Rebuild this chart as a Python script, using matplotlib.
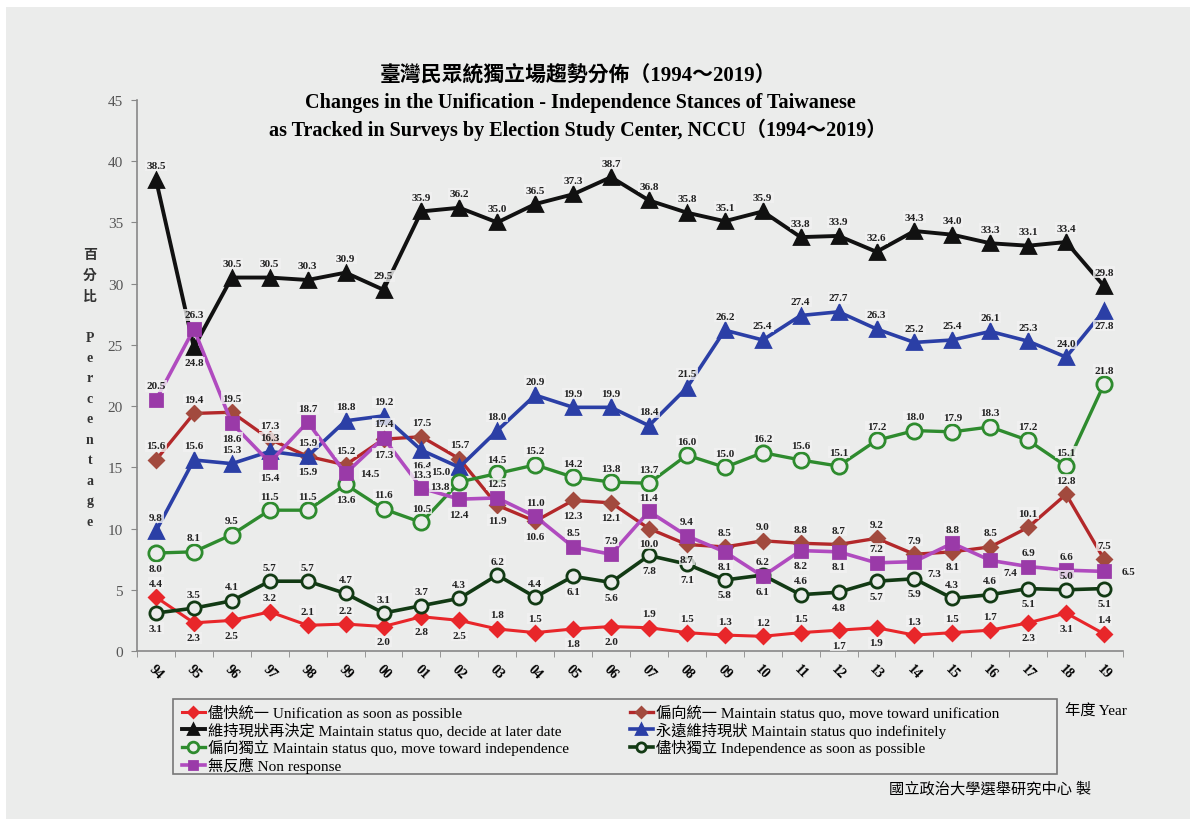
import matplotlib.pyplot as plt
from matplotlib.patches import Rectangle

# ---- data (NCCU Election Study Center, 1994-2019) ----
years = ['94', '95', '96', '97', '98', '99', '00', '01', '02', '03', '04', '05', '06',
         '07', '08', '09', '10', '11', '12', '13', '14', '15', '16', '17', '18', '19']

unif_asap = [4.4, 2.3, 2.5, 3.2, 2.1, 2.2, 2.0, 2.8, 2.5, 1.8, 1.5, 1.8, 2.0,
             1.9, 1.5, 1.3, 1.2, 1.5, 1.7, 1.9, 1.3, 1.5, 1.7, 2.3, 3.1, 1.4]
toward_unif = [15.6, 19.4, 19.5, 17.3, 15.9, 15.2, 17.3, 17.5, 15.7, 11.9, 10.6, 12.3, 12.1,
               10.0, 8.7, 8.5, 9.0, 8.8, 8.7, 9.2, 7.9, 8.1, 8.5, 10.1, 12.8, 7.5]
decide_later = [38.5, 24.8, 30.5, 30.5, 30.3, 30.9, 29.5, 35.9, 36.2, 35.0, 36.5, 37.3, 38.7,
                36.8, 35.8, 35.1, 35.9, 33.8, 33.9, 32.6, 34.3, 34.0, 33.3, 33.1, 33.4, 29.8]
indefinitely = [9.8, 15.6, 15.3, 16.3, 15.9, 18.8, 19.2, 16.4, 15.0, 18.0, 20.9, 19.9, 19.9,
                18.4, 21.5, 26.2, 25.4, 27.4, 27.7, 26.3, 25.2, 25.4, 26.1, 25.3, 24.0, 27.8]
toward_indep = [8.0, 8.1, 9.5, 11.5, 11.5, 13.6, 11.6, 10.5, 13.8, 14.5, 15.2, 14.2, 13.8,
                13.7, 16.0, 15.0, 16.2, 15.6, 15.1, 17.2, 18.0, 17.9, 18.3, 17.2, 15.1, 21.8]
indep_asap = [3.1, 3.5, 4.1, 5.7, 5.7, 4.7, 3.1, 3.7, 4.3, 6.2, 4.4, 6.1, 5.6,
              7.8, 7.1, 5.8, 6.2, 4.6, 4.8, 5.7, 5.9, 4.3, 4.6, 5.1, 5.0, 5.1]
non_response = [20.5, 26.3, 18.6, 15.4, 18.7, 14.5, 17.4, 13.3, 12.4, 12.5, 11.0, 8.5, 7.9,
                11.4, 9.4, 8.1, 6.1, 8.2, 8.1, 7.2, 7.3, 8.8, 7.4, 6.9, 6.6, 6.5]

# where each value label sits: a=above, b=below, l=left, r=right, R=below right
pos_unif_asap = 'abbaaabbbaabbaaaaabbaaabba'
pos_toward_unif = 'aaaababaabbbbbbaaaaaabaaaa'
pos_decide_later = 'ab' + 'a' * 24
pos_indefinitely = 'aaaaaaabl' + 'a' * 16 + 'b'
pos_toward_indep = 'baaaabaal' + 'a' * 17
pos_indep_asap = 'baaaaaaaaaabbbbbaabbbaabab'
pos_non_response = 'aabbaraabaaaaaabbbbaRaRaar'

FIG_W, FIG_H = 1196, 828
SERIF = ['Liberation Serif', 'Noto Sans CJK TC']
BG = '#ebeceb'

fig = plt.figure(figsize=(FIG_W / 100, FIG_H / 100), dpi=100)
fig.patch.set_facecolor('white')
fig.patches.append(Rectangle((6 / FIG_W, 8 / FIG_H), 1184 / FIG_W, 812 / FIG_H,
                             transform=fig.transFigure, facecolor=BG,
                             edgecolor='none', zorder=-10))

ax = fig.add_axes([137 / FIG_W, 1 - 652 / FIG_H, 986 / FIG_W, 551 / FIG_H])
ax.set_facecolor('none')

x = list(range(len(years)))

series = [
    # label, values, label positions, line colour, marker, marker face, marker edge, size, lw
    ('儘快統一 Unification as soon as possible', unif_asap, pos_unif_asap,
     '#e8262a', 'D', '#e8262a', '#e8262a', 7, 2.2),
    ('偏向統一 Maintain status quo, move toward unification', toward_unif, pos_toward_unif,
     '#b3282a', 'D', '#a24a3e', '#a24a3e', 7, 2.4),
    ('維持現狀再決定 Maintain status quo, decide at later date', decide_later, pos_decide_later,
     '#111111', '^', '#111111', '#111111', 10, 2.8),
    ('永遠維持現狀 Maintain status quo indefinitely', indefinitely, pos_indefinitely,
     '#2b3fa6', '^', '#2b3fa6', '#2b3fa6', 10, 2.6),
    ('偏向獨立 Maintain status quo, move toward independence', toward_indep, pos_toward_indep,
     '#2e8b2e', 'o', BG, '#2e8b2e', 11, 2.4),
    ('儘快獨立 Independence as soon as possible', indep_asap, pos_indep_asap,
     '#123a14', 'o', BG, '#123a14', 9.5, 2.6),
    ('無反應 Non response', non_response, pos_non_response,
     '#b04bbf', 's', '#9a3aa8', '#9a3aa8', 9, 2.6),
]

offsets = {'a': (0, 14), 'b': (0, -15), 'l': (-19, -4), 'r': (24, 0), 'R': (20, -12)}

handles = {}
for i, (label, vals, pos, col, mk, mfc, mec, ms, lw) in enumerate(series):
    ln, = ax.plot(x, vals, color=col, lw=lw, marker=mk, markersize=ms,
                  markerfacecolor=mfc, markeredgecolor=mec, markeredgewidth=2,
                  zorder=3 + i, label=label)
    handles[label] = ln
    for xi, v, p in zip(x, vals, pos):
        dx, dy = offsets[p]
        ax.annotate(f'{v:.1f}', (xi, v), textcoords='offset pixels', xytext=(dx, dy),
                    ha='center', va='center', fontsize=8, family='Liberation Serif',
                    fontweight='bold', color='#222222', zorder=20,
                    bbox=dict(boxstyle='square,pad=0.12', facecolor='#f2f2f2',
                              edgecolor='none', alpha=0.8))

ax.set_xlim(-0.5, len(years) - 0.5)
ax.set_ylim(0, 45)
ax.set_yticks(range(0, 46, 5))
ax.set_xticks(x)
ax.set_xticklabels(years, rotation=-45, ha='center', va='top', fontsize=10,
                   fontweight='bold', family='Liberation Serif')
ax.set_xticks([i - 0.5 for i in range(len(years) + 1)], minor=True)
ax.tick_params(axis='x', which='major', length=0, pad=8)
ax.tick_params(axis='x', which='minor', length=4, direction='out', color='#888888')
ax.tick_params(axis='y', length=4, direction='out', color='#888888', pad=6,
               labelsize=11, labelcolor='#555555')
for t in ax.get_yticklabels():
    t.set_family('Liberation Serif')
for s in ['top', 'right']:
    ax.spines[s].set_visible(False)
for s in ['left', 'bottom']:
    ax.spines[s].set_color('#888888')
    ax.spines[s].set_linewidth(1.2)

# vertical axis title, one character per line
ylab = ['百', '分', '比', '', 'P', 'e', 'r', 'c', 'e', 'n', 't', 'a', 'g', 'e']
for k, ch in enumerate(ylab):
    fig.text(90 / FIG_W, 1 - (256 + 20.5 * k) / FIG_H, ch, ha='center', va='center',
             fontsize=10, family=SERIF, fontweight='bold', color='#333333')

# titles
fig.text(578 / FIG_W, 1 - 76 / FIG_H, '臺灣民眾統獨立場趨勢分佈（1994～2019）',
         ha='center', va='center', fontsize=15, family=SERIF, fontweight='bold')
fig.text(580 / FIG_W, 1 - 103 / FIG_H,
         'Changes in the Unification - Independence Stances of Taiwanese',
         ha='center', va='center', fontsize=14.5, family=SERIF, fontweight='bold')
fig.text(578 / FIG_W, 1 - 130 / FIG_H,
         'as Tracked in Surveys by Election Study Center, NCCU（1994～2019）',
         ha='center', va='center', fontsize=14.5, family=SERIF, fontweight='bold')

# legend: row-wise order in the original -> column-wise for matplotlib
order = [0, 2, 4, 6, 1, 3, 5]
leg_h = [handles[series[i][0]] for i in order]
leg_l = [series[i][0] for i in order]
fig.patches.append(Rectangle((173 / FIG_W, 1 - 775 / FIG_H), 884 / FIG_W, 75 / FIG_H,
                             transform=fig.transFigure, facecolor='none',
                             edgecolor='#777777', linewidth=1.2, zorder=5))
leg = fig.legend(leg_h, leg_l, loc='upper left', bbox_to_anchor=(172 / FIG_W, 1 - 695 / FIG_H),
                 ncol=2, frameon=False, prop={'family': SERIF, 'size': 11},
                 handlelength=1.5, handletextpad=0.2, labelspacing=0.11,
                 columnspacing=4.0, borderpad=0.15, markerscale=0.7)

fig.text(1096 / FIG_W, 1 - 712 / FIG_H, '年度 Year', ha='center', va='center',
         fontsize=11, family=SERIF)
fig.text(990 / FIG_W, 1 - 789 / FIG_H, '國立政治大學選舉研究中心 製', ha='center',
         va='center', fontsize=11, family=SERIF)

fig.savefig('out.png', dpi=100)
